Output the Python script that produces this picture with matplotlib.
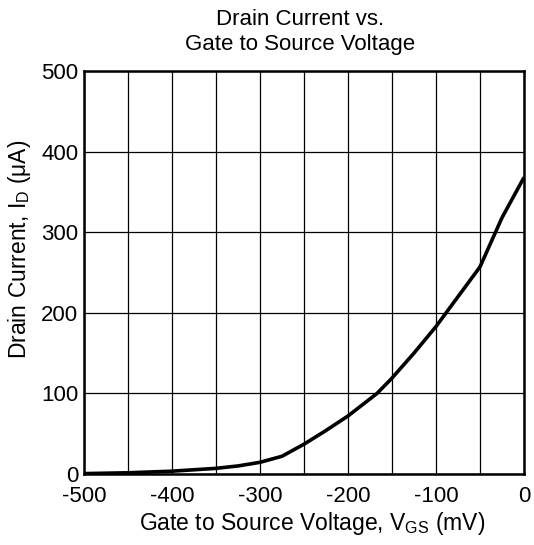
import matplotlib
matplotlib.use("Agg")
import matplotlib.pyplot as plt

plt.rcParams['font.family'] = ['Liberation Sans', 'DejaVu Sans']
plt.rcParams['mathtext.fontset'] = 'custom'
plt.rcParams['mathtext.rm'] = 'Liberation Sans'
plt.rcParams['mathtext.it'] = 'Liberation Sans'

vgs = [-500, -450, -400, -350, -325, -300, -275, -250, -225, -200, -167, -150, -125, -100, -75, -50, -25, 0]
id_ua = [0.5, 1.5, 3.5, 7, 10, 14.5, 22, 37, 54, 72, 100, 119, 150, 183, 220, 257, 318, 368]

xticks = [-500, -400, -300, -200, -100, 0]
xticklabels = ['-500', '-400', '-300', '-200', '-100', '0']
yticks = [0, 100, 200, 300, 400, 500]

fig = plt.figure(figsize=(5.34, 5.45), dpi=100)
ax = fig.add_axes([84/534, 1-474/545, 440/534, 403/545])
ax.plot(vgs, id_ua, color='black', lw=2.6, solid_capstyle='butt', solid_joinstyle='round')
ax.set_xlim(-500, 0)
ax.set_ylim(0, 500)
ax.set_xticks(xticks)
ax.set_xticks(range(-450, 0, 100), minor=True)
ax.set_xticklabels(xticklabels)
ax.set_yticks(yticks)
ax.grid(True, which='both', color='black', lw=0.9)
ax.tick_params(which='both', length=0, labelsize=16)
ax.tick_params(axis='x', pad=9)
ax.tick_params(axis='y', pad=4)
for s in ax.spines.values():
    s.set_linewidth(1.8)
ax.set_xlabel('Gate to Source Voltage, $\\mathregular{V_{GS}}$ (mV)', fontsize=16.5, labelpad=2)
ax.set_ylabel('Drain Current, $\\mathregular{I_D}$ (μA)', fontsize=16.5, labelpad=6)
ax.xaxis.label.set_x(0.5 + 8/440)
ax.yaxis.label.set_y(0.5 + 23/403)
ax.set_title('Drain Current vs.\nGate to Source Voltage', fontsize=16, pad=15,
             linespacing=1.25, x=0.5 - 4/440)
fig.savefig('out.png', dpi=100)
